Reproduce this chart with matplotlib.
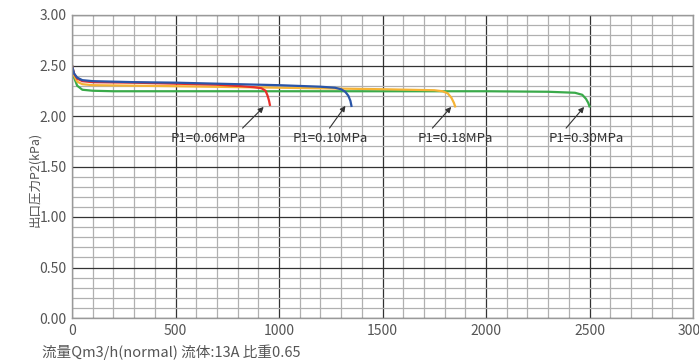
import matplotlib
matplotlib.use("Agg")
import matplotlib.pyplot as plt
from matplotlib.ticker import MultipleLocator
import numpy as np

plt.rcParams['font.family'] = ['Noto Sans CJK JP', 'DejaVu Sans']

# Data (flow Qm3/h vs outlet pressure kPa)
x_006 = [0, 10, 25, 50, 100, 300, 500, 700, 820, 880, 915, 935, 945, 952, 956]
y_006 = [2.50, 2.42, 2.37, 2.345, 2.335, 2.33, 2.32, 2.31, 2.295, 2.285, 2.275, 2.25, 2.20, 2.15, 2.11]

x_010 = [0, 10, 25, 50, 100, 300, 500, 800, 1000, 1200, 1270, 1300, 1320, 1335, 1345, 1350]
y_010 = [2.50, 2.42, 2.38, 2.355, 2.345, 2.335, 2.33, 2.315, 2.305, 2.29, 2.28, 2.265, 2.24, 2.20, 2.15, 2.10]

x_018 = [0, 10, 25, 50, 100, 300, 500, 1000, 1500, 1750, 1790, 1815, 1833, 1845, 1851]
y_018 = [2.50, 2.40, 2.34, 2.315, 2.305, 2.30, 2.295, 2.28, 2.265, 2.255, 2.245, 2.225, 2.18, 2.13, 2.095]

x_030 = [0, 10, 25, 50, 100, 200, 500, 1000, 1500, 2000, 2300, 2430, 2465, 2483, 2494, 2500]
y_030 = [2.50, 2.38, 2.30, 2.26, 2.25, 2.245, 2.245, 2.245, 2.245, 2.245, 2.24, 2.23, 2.21, 2.17, 2.13, 2.095]

labels = ["P1=0.06MPa", "P1=0.10MPa", "P1=0.18MPa", "P1=0.30MPa"]
arrow_tips = [(926, 2.09), (1321, 2.10), (1832, 2.09), (2474, 2.09)]
arrow_tails = [(824, 1.88), (1244, 1.88), (1741, 1.88), (2387, 1.88)]
text_pos = [(656, 1.78), (1249, 1.78), (1852, 1.78), (2483, 1.78)]

xticks = [0, 500, 1000, 1500, 2000, 2500, 3000]
yticks = [0.0, 0.5, 1.0, 1.5, 2.0, 2.5, 3.0]

fig = plt.figure(figsize=(6.99, 3.62), dpi=100)
ax = fig.add_axes([72/699, 44/362, 621/699, 303/362])

ax.set_xlim(0, 3000)
ax.set_ylim(0, 3.0)
ax.set_xticks(xticks)
ax.set_yticks(yticks)
ax.set_xticklabels([str(t) for t in xticks])
ax.set_yticklabels([f"{t:.2f}" for t in yticks])
ax.xaxis.set_minor_locator(MultipleLocator(100))
ax.yaxis.set_minor_locator(MultipleLocator(0.1))
ax.grid(which='minor', color='#b0b0b0', linewidth=0.9)
ax.grid(which='major', color='#333333', linewidth=0.9)
ax.set_axisbelow(True)
for s in ax.spines.values():
    s.set_color('#999999')
    s.set_linewidth(1.0)
ax.tick_params(which='both', length=0)
ax.tick_params(axis='both', labelsize=10, labelcolor='#555555', pad=4)

ax.plot(x_030, y_030, color='#3aaa4a', lw=1.6)
ax.plot(x_018, y_018, color='#f5b335', lw=1.6)
ax.plot(x_006, y_006, color='#e8302a', lw=1.6)
ax.plot(x_010, y_010, color='#2a55a8', lw=1.6)

for lab, tip, tail, tp in zip(labels, arrow_tips, arrow_tails, text_pos):
    ax.annotate('', xy=tip, xytext=tail,
                arrowprops=dict(arrowstyle='-|>', color='#333333', lw=0.8,
                                mutation_scale=8, shrinkA=0, shrinkB=0))
    ax.text(tp[0], tp[1], lab, fontsize=9.5, color='#333333', ha='center', va='center')

fig.text(35/699, 1 - 179/362, "出口圧力P2(kPa)", rotation=90, fontsize=9,
         color='#555555', ha='center', va='center')
fig.text(42/699, 1 - 352/362, "流量Qm3/h(normal) 流体:13A 比重0.65", fontsize=10.5,
         color='#555555', ha='left', va='center')

fig.savefig("out.png", dpi=100)
